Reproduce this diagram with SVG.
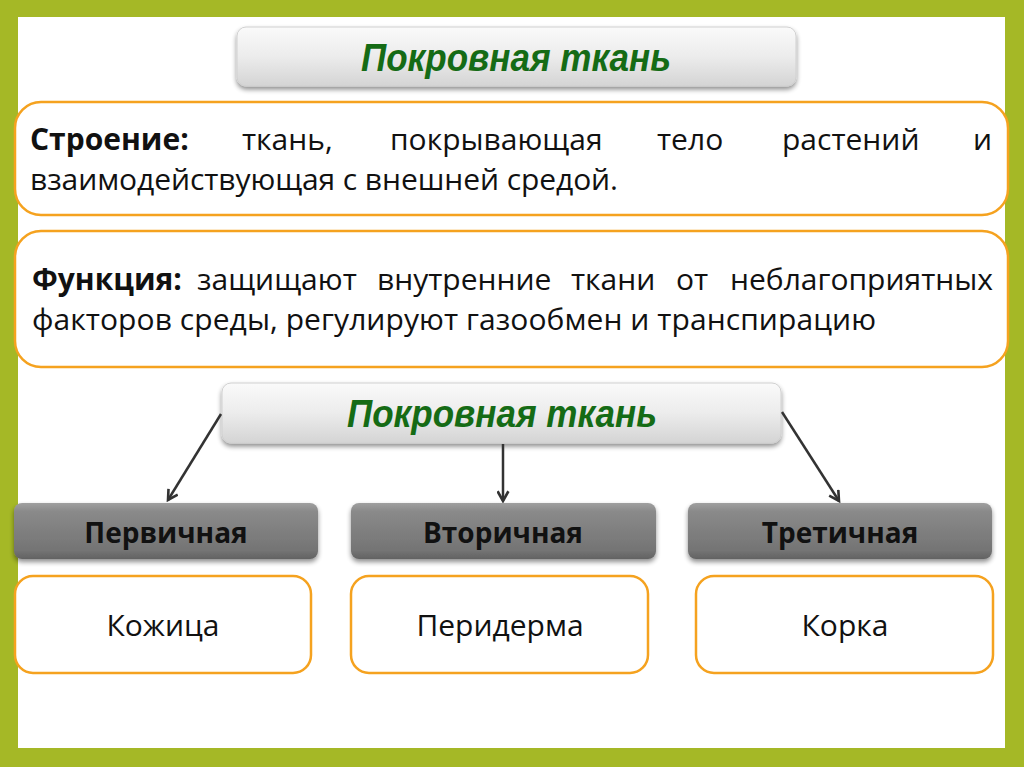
<svg xmlns="http://www.w3.org/2000/svg" width="1024" height="767" viewBox="0 0 1024 767">
<defs>
<linearGradient id="lightBtn" x1="0" y1="0" x2="0" y2="1">
<stop offset="0" stop-color="#fafafa"/>
<stop offset="0.5" stop-color="#ececec"/>
<stop offset="1" stop-color="#d4d4d4"/>
</linearGradient>
<linearGradient id="darkBtn" x1="0" y1="0" x2="0" y2="1">
<stop offset="0" stop-color="#a0a0a0"/>
<stop offset="0.15" stop-color="#8a8a8a"/>
<stop offset="0.85" stop-color="#747474"/>
<stop offset="1" stop-color="#626262"/>
</linearGradient>
<filter id="shadow" x="-5%" y="-20%" width="110%" height="150%">
<feGaussianBlur in="SourceAlpha" stdDeviation="2.5"/>
<feOffset dx="0" dy="3" result="b"/>
<feComponentTransfer><feFuncA type="linear" slope="0.45"/></feComponentTransfer>
<feMerge><feMergeNode/><feMergeNode in="SourceGraphic"/></feMerge>
</filter>
<marker id="arrow" viewBox="0 0 12 12" refX="10" refY="6" markerWidth="13" markerHeight="13" markerUnits="userSpaceOnUse" orient="auto">
<path d="M1,1 L10,6 L1,11" fill="none" stroke="#333" stroke-width="2.4"/>
</marker>
</defs>
<style>
.orange{fill:#fff;stroke:#f5a21f;stroke-width:2.5}
.body{font-family:"Open Sans","Noto Sans",sans-serif;font-size:30px;fill:#111}
.b{font-weight:bold}
.title{font-family:"Liberation Sans",Arial,sans-serif;font-size:38px;font-weight:bold;font-style:italic;fill:#156b15}
.lbl{font-family:"Open Sans","Noto Sans",sans-serif;font-size:28px;font-weight:bold;fill:#111}
.conn{stroke:#333;stroke-width:2.5;fill:none}
</style>
<rect x="0" y="0" width="1024" height="767" fill="#a5b826"/>
<rect x="18" y="17" width="987" height="731" fill="#fff"/>

<g id="title1">
<rect x="237" y="27" width="559" height="59" rx="9" fill="url(#lightBtn)" stroke="#d0d0d0" stroke-width="1" filter="url(#shadow)"/>
<text class="title" x="516" y="71" text-anchor="middle" textLength="310" lengthAdjust="spacingAndGlyphs">Покровная ткань</text>
</g>

<g id="structure">
<rect class="orange" x="15" y="102" width="993" height="113" rx="26"/>
<text class="body"><tspan class="b" x="30" y="150">Строение:</tspan></text>
<text class="body" y="150"><tspan x="242">ткань,</tspan><tspan x="390">покрывающая</tspan><tspan x="657">тело</tspan><tspan x="782">растений</tspan><tspan x="973">и</tspan></text>
<text class="body" x="30" y="190" textLength="588" lengthAdjust="spacing">взаимодействующая с внешней средой.</text>
</g>

<g id="function">
<rect class="orange" x="15" y="231" width="993" height="136" rx="26"/>
<text class="body"><tspan class="b" x="32" y="290">Функция:</tspan></text>
<text class="body" y="290"><tspan x="197">защищают</tspan><tspan x="377">внутренние</tspan><tspan x="571">ткани</tspan><tspan x="676">от</tspan><tspan x="730">неблагоприятных</tspan></text>
<text class="body" x="32" y="330" textLength="844" lengthAdjust="spacing">факторов среды, регулируют газообмен и транспирацию</text>
</g>

<g id="title2">
<rect x="222" y="383" width="559" height="60" rx="9" fill="url(#lightBtn)" stroke="#d0d0d0" stroke-width="1" filter="url(#shadow)"/>
<text class="title" x="502" y="427" text-anchor="middle" textLength="310" lengthAdjust="spacingAndGlyphs">Покровная ткань</text>
</g>

<g id="connectors">
<line class="conn" x1="221" y1="414" x2="168" y2="500" marker-end="url(#arrow)"/>
<line class="conn" x1="503" y1="444" x2="503" y2="501" marker-end="url(#arrow)"/>
<line class="conn" x1="782" y1="412" x2="839" y2="501" marker-end="url(#arrow)"/>
</g>

<g id="primary">
<rect x="14" y="503" width="304" height="56" rx="8" fill="url(#darkBtn)" filter="url(#shadow)"/>
<text class="lbl" x="166" y="543" text-anchor="middle">Первичная</text>
</g>
<g id="secondary">
<rect x="351" y="503" width="305" height="56" rx="8" fill="url(#darkBtn)" filter="url(#shadow)"/>
<text class="lbl" x="503" y="543" text-anchor="middle">Вторичная</text>
</g>
<g id="tertiary">
<rect x="688" y="503" width="304" height="56" rx="8" fill="url(#darkBtn)" filter="url(#shadow)"/>
<text class="lbl" x="840" y="543" text-anchor="middle">Третичная</text>
</g>

<g id="kozhica">
<rect class="orange" x="15" y="576" width="296" height="97" rx="18"/>
<text class="body" x="163" y="636" text-anchor="middle">Кожица</text>
</g>
<g id="periderma">
<rect class="orange" x="351" y="576" width="297" height="97" rx="18"/>
<text class="body" x="500" y="636" text-anchor="middle">Перидерма</text>
</g>
<g id="korka">
<rect class="orange" x="696" y="576" width="297" height="97" rx="18"/>
<text class="body" x="845" y="636" text-anchor="middle">Корка</text>
</g>
</svg>
